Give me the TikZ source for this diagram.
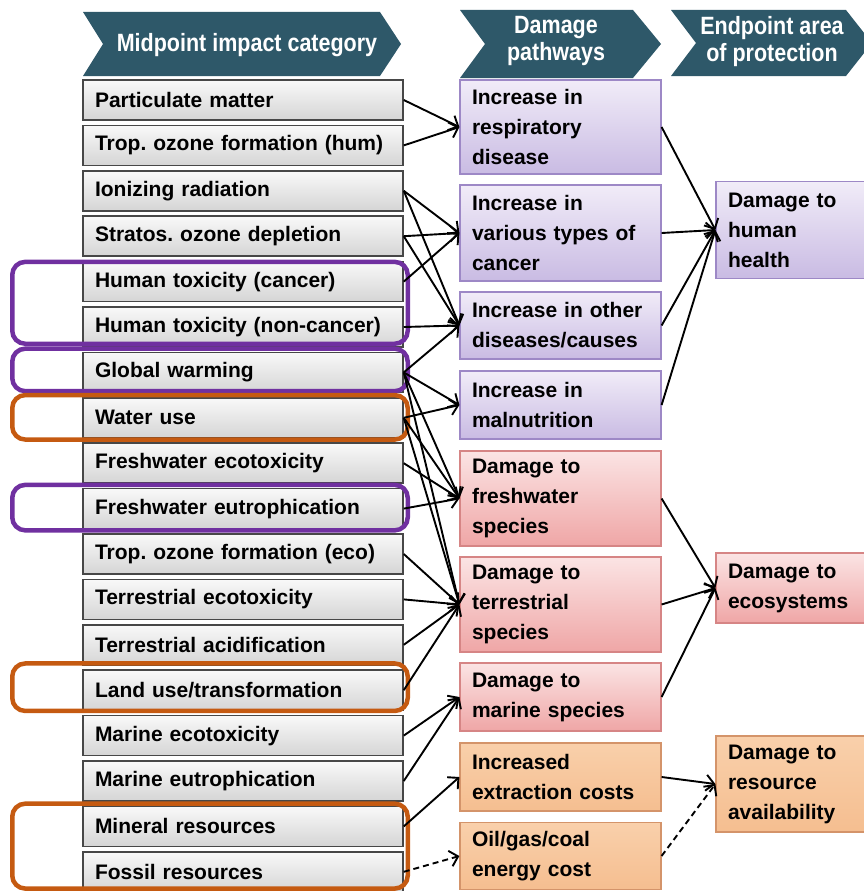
\documentclass[tikz,border=0pt]{standalone}
\usepackage{fontspec}
\setmainfont{Liberation Sans}
\newfontfamily\narrowfont[FakeStretch=0.86]{Liberation Sans}
\usetikzlibrary{arrows.meta}
\usetikzlibrary{calc}
\frenchspacing

\definecolor{headteal}{HTML}{2E5869}
\definecolor{lilactop}{HTML}{F1ECF8}
\definecolor{lilacbot}{HTML}{C9BBE3}
\definecolor{lilacline}{HTML}{9D88C6}
\definecolor{rosetop}{HTML}{FBE4E4}
\definecolor{rosebot}{HTML}{EFA6A6}
\definecolor{roseline}{HTML}{D68585}
\definecolor{sandtop}{HTML}{F9D0AB}
\definecolor{sandbot}{HTML}{F5BE90}
\definecolor{sandline}{HTML}{D4946A}
\definecolor{hlpurple}{HTML}{7030A0}
\definecolor{hlorange}{HTML}{C55A11}

\tikzset{
  catbox/.style={draw=black!72, line width=1.5pt, top color=gray!5, bottom color=gray!33,
    minimum width=320pt, minimum height=40pt, text width=296pt, inner xsep=12pt,
    align=left, font=\fontsize{21}{30}\selectfont\bfseries},
  pathbox/.style={line width=1.2pt, minimum width=201pt, text width=177pt, inner xsep=12pt,
    align=left, font=\fontsize{21}{30}\selectfont\bfseries},
  areabox/.style={pathbox, minimum width=160pt, text width=136pt},
  health/.style={draw=lilacline, top color=lilactop, bottom color=lilacbot},
  eco/.style={draw=roseline, top color=rosetop, bottom color=rosebot},
  resource/.style={draw=sandline, top color=sandtop, bottom color=sandbot},
  flow/.style={line width=1.9pt, -{Straight Barb[length=8pt,width=16pt]}},
  weakflow/.style={flow, dash pattern=on 6pt off 4pt},
  hilite/.style={line width=4.5pt, rounded corners=13pt},
  headtext/.style={text=white, align=center,
    font=\narrowfont\bfseries\fontsize{25}{27}\selectfont}
}

\begin{document}
\begin{tikzpicture}[x=1pt, y=-1pt]
    \useasboundingbox (0,0) rectangle (864,891);
    % header arrows
    \fill[headteal] (83,12) -- (380,12) -- (401,44) -- (380,76) -- (83,76) -- (103,44) -- cycle;
    \fill[headteal] (460,10) -- (633,10) -- (661,44) -- (633,78) -- (460,78) -- (485,44) -- cycle;
    \fill[headteal] (671,10) -- (846,10) -- (872,43) -- (846,76) -- (671,76) -- (696,43) -- cycle;
    \node[headtext] (h1) at (247,45) {Midpoint impact category};
    \node[headtext] (h2) at (556,41) {Damage\\pathways};
    \node[headtext] (h3) at (772,42) {Endpoint area\\of protection};

    % midpoint categories
    \foreach \lbl [count=\i] in {{Particulate matter}, {Trop. ozone formation (hum)},
        {Ionizing radiation}, {Stratos. ozone depletion}, {Human toxicity (cancer)},
        {Human toxicity (non-cancer)}, {Global warming}, {Water use},
        {Freshwater ecotoxicity}, {Freshwater eutrophication}, {Trop. ozone formation (eco)},
        {Terrestrial ecotoxicity}, {Terrestrial acidification}, {Land use/transformation},
        {Marine ecotoxicity}, {Marine eutrophication}, {Mineral resources}, {Fossil resources}}
    {
        \pgfmathsetmacro\yy{100+45.4*(\i-1)}
        \node[catbox] (c\i) at (243,\yy) {\lbl};
    }

    % damage pathways
    \node[pathbox, health, minimum height=94pt] (resp) at (560.5,127) {Increase in\\respiratory\\disease};
    \node[pathbox, health, minimum height=96pt] (canc) at (560.5,233) {Increase in\\various types of\\cancer};
    \node[pathbox, health, minimum height=67pt] (othr) at (560.5,325.5) {Increase in other\\diseases/causes};
    \node[pathbox, health, minimum height=68pt] (maln) at (560.5,405) {Increase in\\malnutrition};
    \node[pathbox, eco, minimum height=95pt] (fwsp) at (560.5,498.5) {Damage to\\freshwater\\species};
    \node[pathbox, eco, minimum height=95pt] (tesp) at (560.5,604.5) {Damage to\\terrestrial\\species};
    \node[pathbox, eco, minimum height=68pt] (masp) at (560.5,697) {Damage to\\marine species};
    \node[pathbox, resource, minimum height=68pt] (extr) at (560.5,777) {Increased\\extraction costs};
    \node[pathbox, resource, minimum height=67pt] (ener) at (560.5,856) {Oil/gas/coal\\energy cost};

    % endpoints
    \node[areabox, health, minimum height=97pt] (hh) at (796,230) {Damage to\\human\\health};
    \node[areabox, eco, minimum height=70pt] (ecos) at (796,588) {Damage to\\ecosystems};
    \node[areabox, resource, minimum height=96pt] (res) at (796,784) {Damage to\\resource\\availability};

    % highlighted groups
    \draw[hilite, hlpurple] ($(c5.north west)+(-70,1)$) rectangle ($(c6.south east)+(4,-4)$);
    \draw[hilite, hlpurple] ($(c7.north west)+(-70,-3)$) rectangle ($(c7.south east)+(4,-2)$);
    \draw[hilite, hlorange] ($(c8.north west)+(-70,-2)$) rectangle ($(c8.south east)+(4,1)$);
    \draw[hilite, hlpurple] ($(c10.north west)+(-70,-3)$) rectangle ($(c10.south east)+(4,1)$);
    \draw[hilite, hlorange] ($(c14.north west)+(-70,-6)$) rectangle ($(c14.south east)+(4,0)$);
    \draw[hilite, hlorange] ($(c17.north west)+(-70,-2)$) rectangle ($(c18.south east)+(4,-4)$);

    % midpoint -> pathway
    \foreach \a/\b in {c1/resp, c2/resp, c3/canc, c3/othr, c4/canc, c4/othr, c5/canc, c6/othr,
        c7/othr, c7/maln, c7/fwsp, c7/tesp, c8/maln, c8/fwsp, c8/tesp, c9/fwsp, c10/fwsp,
        c11/tesp, c12/tesp, c13/tesp, c14/tesp, c15/masp, c16/masp, c17/extr}
        \draw[flow] (\a.east) -- (\b.west);
    \draw[weakflow] (c18.east) -- (ener.west);

    % pathway -> endpoint
    \foreach \a/\b in {resp/hh, canc/hh, othr/hh, maln/hh, fwsp/ecos, tesp/ecos, masp/ecos, extr/res}
        \draw[flow] (\a.east) -- (\b.west);
    \draw[weakflow] (ener.east) -- (res.west);
\end{tikzpicture}
\end{document}
